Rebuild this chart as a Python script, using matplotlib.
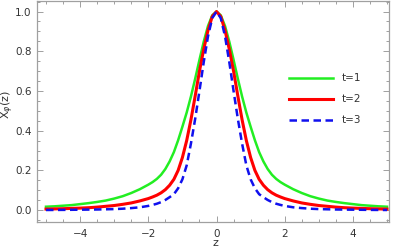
import matplotlib
matplotlib.use("Agg")
import matplotlib.pyplot as plt
from matplotlib.ticker import MultipleLocator

# z sample positions
z = [-5.0, -4.75, -4.5, -4.25, -4.0, -3.75, -3.5, -3.25, -3.0, -2.75, -2.5, -2.25,
     -2.0, -1.875, -1.75, -1.625, -1.5, -1.375, -1.25, -1.125, -1.0, -0.875, -0.75, -0.625,
     -0.5, -0.375, -0.25, -0.125, 0.0,
     0.125, 0.25, 0.375, 0.5, 0.625, 0.75, 0.875, 1.0, 1.125, 1.25, 1.375, 1.5,
     1.625, 1.75, 1.875, 2.0,
     2.25, 2.5, 2.75, 3.0, 3.25, 3.5, 3.75, 4.0, 4.25, 4.5, 4.75, 5.0]

# t = 1 (green)
x_t1 = [0.017, 0.019, 0.022, 0.025, 0.030, 0.035, 0.041, 0.048, 0.058, 0.070, 0.086, 0.105,
        0.128, 0.141, 0.157, 0.178, 0.207, 0.245, 0.292, 0.352, 0.420, 0.491, 0.572, 0.662,
        0.757, 0.848, 0.927, 0.981, 1.0,
        0.981, 0.927, 0.848, 0.757, 0.662, 0.572, 0.491, 0.420, 0.352, 0.292, 0.245, 0.207,
        0.178, 0.157, 0.141, 0.128,
        0.105, 0.086, 0.070, 0.058, 0.048, 0.041, 0.035, 0.030, 0.025, 0.022, 0.019, 0.017]

# t = 2 (red)
x_t2 = [0.005, 0.006, 0.007, 0.0085, 0.010, 0.012, 0.015, 0.019, 0.023, 0.029, 0.036, 0.046,
        0.058, 0.066, 0.075, 0.087, 0.103, 0.125, 0.155, 0.200, 0.265, 0.350, 0.455, 0.575,
        0.700, 0.810, 0.905, 0.975, 1.0,
        0.975, 0.905, 0.810, 0.700, 0.575, 0.455, 0.350, 0.265, 0.200, 0.155, 0.125, 0.103,
        0.087, 0.075, 0.066, 0.058,
        0.046, 0.036, 0.029, 0.023, 0.019, 0.015, 0.012, 0.010, 0.0085, 0.007, 0.006, 0.005]

# t = 3 (blue, dashed)
x_t3 = [0.0005, 0.0007, 0.001, 0.0015, 0.002, 0.0025, 0.003, 0.004, 0.005, 0.007, 0.010, 0.014,
        0.021, 0.026, 0.032, 0.040, 0.051, 0.065, 0.080, 0.110, 0.155, 0.225, 0.335, 0.460,
        0.600, 0.745, 0.875, 0.967, 1.0,
        0.967, 0.875, 0.745, 0.600, 0.460, 0.335, 0.225, 0.155, 0.110, 0.080, 0.065, 0.051,
        0.040, 0.032, 0.026, 0.021,
        0.014, 0.010, 0.007, 0.005, 0.004, 0.003, 0.0025, 0.002, 0.0015, 0.001, 0.0007, 0.0005]

labels = ["t=1", "t=2", "t=3"]
x_ticks = [-4, -2, 0, 2, 4]
y_ticks = [0.0, 0.2, 0.4, 0.6, 0.8, 1.0]

plt.rcParams['mathtext.fontset'] = 'dejavusans'
fig = plt.figure(figsize=(3.95, 2.5), dpi=100)
ax = fig.add_axes([0.094, 0.112, 0.891, 0.884])

ax.plot(z, x_t1, color="#22ee22", lw=1.8, label=labels[0], solid_joinstyle='round')
ax.plot(z, x_t2, color="#ff0000", lw=2.2, label=labels[1], solid_joinstyle='round')
ax.plot(z, x_t3, color="#1010ee", lw=1.8, ls=(0, (3.0, 1.8)), label=labels[2])

ax.set_xlim(-5.26, 5.06)
ax.set_ylim(-0.06, 1.053)
ax.set_xticks(x_ticks)
ax.set_yticks(y_ticks)
ax.set_xticklabels([str(v).replace('-', '\u2212') for v in x_ticks])
ax.set_yticklabels([f"{v:.1f}" for v in y_ticks])
ax.xaxis.set_minor_locator(MultipleLocator(0.5))
ax.yaxis.set_minor_locator(MultipleLocator(0.05))

frame_col = "#a0a0a0"
for s in ax.spines.values():
    s.set_color(frame_col)
    s.set_linewidth(0.9)
ax.tick_params(which='both', direction='in', top=True, right=True, color=frame_col,
               labelcolor="#333333", labelsize=7.5, width=0.7)
ax.tick_params(which='major', length=4)
ax.tick_params(which='minor', length=2.2)
ax.tick_params(axis='x', pad=5)
ax.tick_params(axis='y', pad=4)

ax.set_xlabel("z", fontsize=8, color="#333333", va='center')
ax.xaxis.set_label_coords(0.508, -0.095)
ax.set_ylabel(r"X$_{\varphi}$(z)", fontsize=8, color="#333333", va='center')
ax.yaxis.set_label_coords(-0.082, 0.53)

ax.legend(loc='center left', bbox_to_anchor=(0.69, 0.555), frameon=False,
          fontsize=7.5, handlelength=4.2, handletextpad=0.8, labelspacing=1.05,
          labelcolor="#333333")

fig.savefig("out.png", dpi=100)
